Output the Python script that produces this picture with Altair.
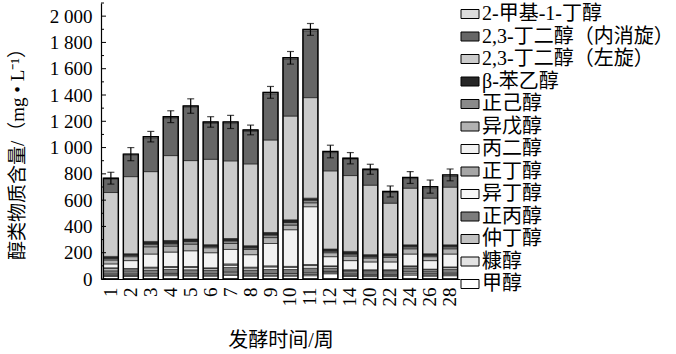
import altair as alt
import pandas as pd

weeks = ["1", "2", "3", "4", "5", "6", "7", "8", "9", "10", "11", "12", "14", "20", "22", "24", "26", "28"]

# stack order, bottom to top
components = ["甲醇", "糠醇", "仲丁醇", "正丙醇", "异丁醇", "正丁醇", "丙二醇", "异戊醇", "正己醇",
              "β-苯乙醇", "2,3-丁二醇（左旋）", "2,3-丁二醇（内消旋）", "2-甲基-1-丁醇"]

methanol      = [20, 20, 22, 25, 22, 22, 28, 22, 22, 22, 25, 40, 20, 18, 18, 30, 22, 25]
furfuryl      = [8, 8, 8, 8, 8, 8, 10, 8, 8, 8, 10, 8, 8, 8, 8, 10, 8, 8]
sec_butanol   = [10, 10, 10, 10, 10, 10, 15, 10, 12, 12, 12, 10, 10, 10, 10, 15, 10, 12]
propanol      = [25, 25, 28, 30, 30, 28, 35, 28, 30, 30, 35, 25, 20, 20, 20, 30, 22, 30]
isobutanol    = [15, 12, 15, 15, 17, 12, 17, 15, 20, 17, 20, 12, 8, 10, 10, 10, 10, 12]
butanol       = [7, 5, 7, 7, 8, 5, 10, 7, 8, 7, 8, 5, 4, 4, 4, 5, 3, 5]
propanediol   = [30, 60, 100, 110, 120, 115, 110, 95, 170, 279, 440, 70, 70, 60, 60, 90, 65, 98]
isoamyl       = [30, 30, 55, 45, 50, 38, 45, 40, 45, 35, 30, 30, 35, 30, 35, 40, 30, 40]
hexanol       = [12, 10, 20, 18, 20, 10, 20, 12, 20, 20, 20, 12, 15, 10, 12, 15, 10, 15]
phenylethanol = [15, 12, 21, 25, 19, 13, 18, 16, 19, 20, 15, 16, 20, 15, 15, 15, 12, 15]
levo          = [486, 587, 531, 646, 597, 650, 591, 623, 704, 790, 765, 595, 577, 529, 385, 431, 423, 439]
meso          = [101, 163, 258, 288, 405, 276, 284, 250, 352, 433, 509, 139, 124, 113, 81, 73, 80, 85]
methylbutanol = [8, 8, 8, 8, 10, 8, 12, 8, 10, 10, 10, 8, 8, 8, 8, 8, 8, 8]
errors        = [45, 50, 40, 45, 55, 40, 50, 37, 45, 48, 45, 48, 43, 38, 42, 45, 50, 45]

series = [methanol, furfuryl, sec_butanol, propanol, isobutanol, butanol, propanediol,
          isoamyl, hexanol, phenylethanol, levo, meso, methylbutanol]

# legend order (top to bottom) and fills
legend_order = components[::-1]
fills = ["#dcdcdc", "#666666", "#cbcbcb", "#262626", "#8a8a8a", "#b2b2b2", "#f2f2f2",
         "#a6a6a6", "#f7f7f7", "#7c7c7c", "#c2c2c2", "#e3e3e3", "#ffffff"]

major_ticks = [0, 200, 400, 600, 800, 1000, 1200, 1400, 1600, 1800, 2000]
minor_ticks = [100, 300, 500, 700, 900, 1100, 1300, 1500, 1700, 1900, 2100]

rows = []
for ci, (name, vals) in enumerate(zip(components, series)):
    for w, v in zip(weeks, vals):
        rows.append({"week": w, "component": name, "value": v, "idx": ci})
df = pd.DataFrame(rows)

totals = [sum(s[i] for s in series) for i in range(len(weeks))]
df_tot = pd.DataFrame({"week": weeks, "total": totals, "err": errors})
df_tot["lo"] = df_tot["total"] - df_tot["err"]
df_tot["hi"] = df_tot["total"] + df_tot["err"]

FONT = "Liberation Serif, Noto Sans CJK SC"

xaxis = alt.Axis(title="发酵时间/周", labelAngle=270, labelFontSize=19,
                 labelFont=FONT, ticks=False, labelPadding=8,
                 titleFont=FONT, titleFontSize=20, titleFontWeight="normal",
                 titlePadding=24, domainColor="black", domainWidth=1.2,
                 labelColor="black", titleColor="black")
yaxis = alt.Axis(title="醇类物质含量/（mg • L⁻¹）", values=major_ticks, ticks=False,
                 labelOverlap=False,
                 labelExpr="datum.value >= 1000 ? replace(format(datum.value, ','), ',', ' ') : datum.label",
                 labelFont=FONT, labelFontSize=19, labelPadding=9, labelColor="black",
                 titleFont=FONT, titleFontSize=19, titleFontWeight="normal",
                 titleColor="black", titleX=-84, titleY=146, titleAngle=270,
                 titleAlign="center", titleBaseline="middle",
                 domainColor="black", domainWidth=1.2, grid=False)

xscale = alt.Scale(paddingInner=0.25, paddingOuter=0.12)
yscale = alt.Scale(domain=[0, 2100], nice=False)

xenc = alt.X("week:N", sort=weeks, scale=xscale, axis=xaxis)


def yenc(field):
    return alt.Y(field, scale=yscale, axis=yaxis)


bars = alt.Chart(df).mark_bar(stroke="#222222", strokeWidth=0.7).encode(
    x=xenc,
    y=alt.Y("value:Q", stack="zero", scale=yscale, axis=yaxis),
    color=alt.Color("component:N", scale=alt.Scale(domain=legend_order, range=fills),
                    legend=alt.Legend(title=None, orient="none", legendX=359, legendY=1,
                                      symbolType="M-1,-0.5L1,-0.5L1,0.5L-1,0.5Z",
                                      symbolSize=324, symbolStrokeColor="black",
                                      symbolStrokeWidth=1, symbolOpacity=1,
                                      labelFont=FONT, labelFontSize=20, labelColor="black",
                                      labelLimit=300, labelOffset=2, rowPadding=2.5,
                                      padding=0)),
    order=alt.Order("idx:Q", sort="ascending"),
)

outline = alt.Chart(df_tot).mark_bar(filled=False, stroke="black", strokeWidth=1.4).encode(
    x=xenc, y=yenc("total:Q")
)

err_rule = alt.Chart(df_tot).mark_rule(color="black", strokeWidth=1.2).encode(
    x=xenc, y=yenc("lo:Q"), y2="hi:Q"
)
err_cap = alt.Chart(df_tot).mark_tick(color="black", thickness=1.2, size=7).encode(
    x=xenc, y=yenc("hi:Q")
)
err_cap_lo = alt.Chart(df_tot).mark_tick(color="black", thickness=1.2, size=7).encode(
    x=xenc, y=yenc("lo:Q")
)

tick_major = alt.Chart(pd.DataFrame({"t": major_ticks})).mark_rule(color="black", strokeWidth=1).encode(
    y=yenc("t:Q"), x=alt.value(0), x2=alt.value(5)
)
tick_minor = alt.Chart(pd.DataFrame({"t": minor_ticks})).mark_rule(color="black", strokeWidth=1).encode(
    y=yenc("t:Q"), x=alt.value(0), x2=alt.value(3)
)

chart = alt.layer(bars, outline, err_rule, err_cap, err_cap_lo, tick_major, tick_minor).properties(
    width=359, height=276,
    padding={"left": 101, "top": 3, "right": 216, "bottom": 75},
    autosize=alt.AutoSizeParams(type="none"),
    background="white",
).configure_view(stroke=None)

chart.save("out.html", embed_options={"renderer": "svg", "actions": False})
